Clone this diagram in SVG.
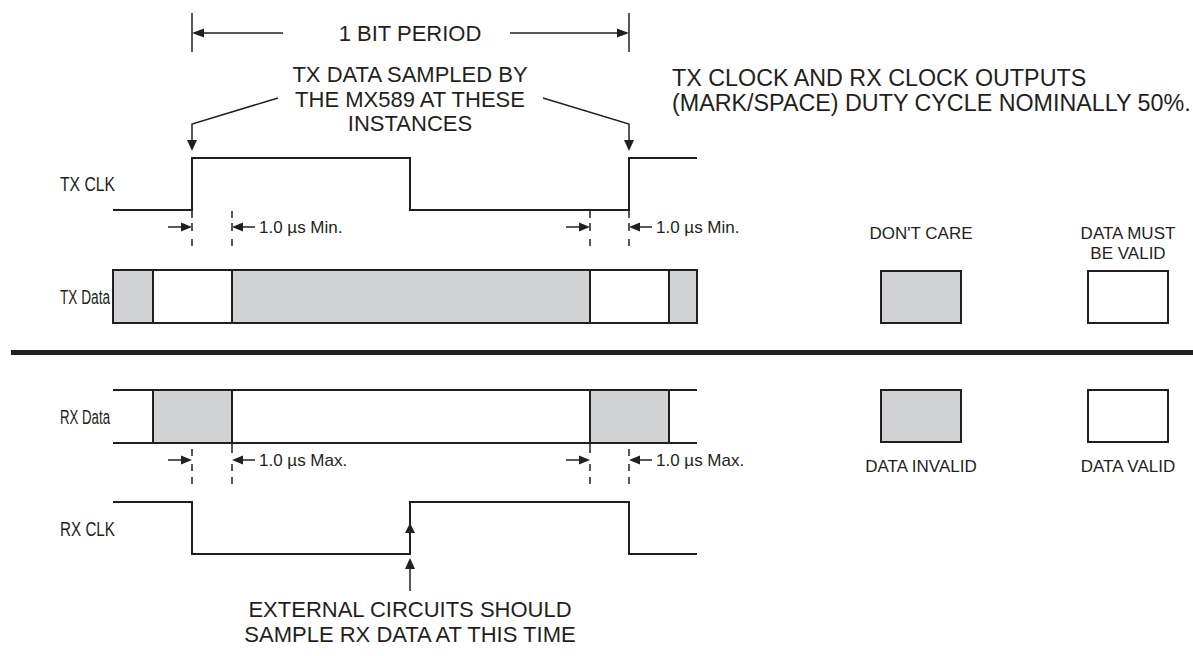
<svg xmlns="http://www.w3.org/2000/svg" width="1193" height="656" viewBox="0 0 1193 656">
<defs>
<style>
.t{font-family:"Liberation Sans",Arial,sans-serif;fill:#231f20}
.big{font-size:22px}
.note{font-size:23.3px}
.lbl{font-size:19.5px}
.sm{font-size:17px}
.leg{font-size:17px}
.w{fill:none;stroke:#231f20;stroke-width:2}
.thin{fill:none;stroke:#231f20;stroke-width:1.5}
.box{stroke:#231f20;stroke-width:2}
.g{fill:#d1d3d4}
.wh{fill:#ffffff}
.ah{fill:#231f20}
</style>
</defs>
<rect width="1193" height="656" fill="#ffffff"/>

<g id="period-dimension">
<line class="thin" x1="192" y1="13" x2="192" y2="52"/>
<line class="thin" x1="629" y1="13" x2="629" y2="52"/>
<line class="thin" x1="200" y1="33" x2="283" y2="33"/>
<line class="thin" x1="510" y1="33" x2="621" y2="33"/>
<polygon class="ah" points="192,33 204,28.5 204,37.5"/>
<polygon class="ah" points="629,33 617,28.5 617,37.5"/>
<text class="t big" x="410" y="41" text-anchor="middle">1 BIT PERIOD</text>
</g>

<g id="sample-note">
<text class="t big" x="410" y="82" text-anchor="middle">TX DATA SAMPLED BY</text>
<text class="t big" x="410" y="107" text-anchor="middle">THE MX589 AT THESE</text>
<text class="t big" x="410" y="131" text-anchor="middle">INSTANCES</text>
<polyline class="thin" points="278,98 192,124 192,142"/>
<polygon class="ah" points="192,151 187,140 197,140"/>
<polyline class="thin" points="543,98 629,124 629,142"/>
<polygon class="ah" points="629,151 624,140 634,140"/>
</g>

<g id="duty-note">
<text class="t note" x="672" y="86">TX CLOCK AND RX CLOCK OUTPUTS</text>
<text class="t note" x="672" y="111">(MARK/SPACE) DUTY CYCLE NOMINALLY 50%.</text>
</g>

<g id="tx-clk">
<text class="t lbl" x="60" y="191" textLength="55" lengthAdjust="spacingAndGlyphs">TX CLK</text>
<polyline class="w" points="113,210 192,210 192,158 410,158 410,210 629,210 629,158 697,158"/>
</g>

<g id="tx-timing">
<path class="thin" d="M192,210V218 M192,223V231 M192,239V246 M232,211V218 M232,223V231 M232,239V246 M590,210V218 M590,223V231 M590,239V246 M629,210V218 M629,223V231 M629,239V246"/>
<line class="thin" x1="168" y1="227" x2="184" y2="227"/>
<polygon class="ah" points="192,227 181,222.5 181,231.5"/>
<line class="thin" x1="240" y1="227" x2="255" y2="227"/>
<polygon class="ah" points="232,227 243,222.5 243,231.5"/>
<text class="t sm" x="259" y="233">1.0 µs Min.</text>
<line class="thin" x1="566" y1="227" x2="582" y2="227"/>
<polygon class="ah" points="590,227 579,222.5 579,231.5"/>
<line class="thin" x1="637" y1="227" x2="652" y2="227"/>
<polygon class="ah" points="629,227 640,222.5 640,231.5"/>
<text class="t sm" x="656" y="233">1.0 µs Min.</text>
</g>

<g id="tx-data">
<text class="t lbl" x="60" y="304" textLength="50" lengthAdjust="spacingAndGlyphs">TX Data</text>
<rect class="box g" x="113" y="270" width="40" height="53"/>
<rect class="box wh" x="153" y="270" width="79" height="53"/>
<rect class="box g" x="232" y="270" width="358" height="53"/>
<rect class="box wh" x="590" y="270" width="79" height="53"/>
<rect class="box g" x="669" y="270" width="28" height="53"/>
</g>

<g id="separator">
<line x1="11" y1="352.5" x2="1193" y2="352.5" stroke="#231f20" stroke-width="5"/>
</g>

<g id="rx-data">
<text class="t lbl" x="60" y="424" textLength="50" lengthAdjust="spacingAndGlyphs">RX Data</text>
<rect class="box g" x="153" y="390" width="79" height="53"/>
<rect class="box g" x="590" y="390" width="79" height="53"/>
<line class="w" x1="113" y1="390" x2="697" y2="390"/>
<line class="w" x1="113" y1="443" x2="697" y2="443"/>
</g>

<g id="rx-timing">
<path class="thin" d="M192,449V456 M192,464V471 M192,477V484 M232,443V453 M232,464V471 M232,477V484 M590,443V453 M590,464V471 M590,477V484 M629,449V456 M629,464V471 M629,477V484"/>
<line class="thin" x1="168" y1="460" x2="184" y2="460"/>
<polygon class="ah" points="192,460 181,455.5 181,464.5"/>
<line class="thin" x1="240" y1="460" x2="255" y2="460"/>
<polygon class="ah" points="232,460 243,455.5 243,464.5"/>
<text class="t sm" x="259" y="466">1.0 µs Max.</text>
<line class="thin" x1="566" y1="460" x2="582" y2="460"/>
<polygon class="ah" points="590,460 579,455.5 579,464.5"/>
<line class="thin" x1="637" y1="460" x2="652" y2="460"/>
<polygon class="ah" points="629,460 640,455.5 640,464.5"/>
<text class="t sm" x="656" y="466">1.0 µs Max.</text>
</g>

<g id="rx-clk">
<text class="t lbl" x="60" y="536" textLength="55" lengthAdjust="spacingAndGlyphs">RX CLK</text>
<polyline class="w" points="113,502 192,502 192,554 410,554 410,502 629,502 629,554 697,554"/>
<polygon class="ah" points="410,523 405,533 415,533"/>
</g>

<g id="sample-rx-note">
<line class="thin" x1="410" y1="566" x2="410" y2="591"/>
<polygon class="ah" points="410,558 405,569 415,569"/>
<text class="t big" x="410" y="617" text-anchor="middle">EXTERNAL CIRCUITS SHOULD</text>
<text class="t big" x="410" y="642" text-anchor="middle">SAMPLE RX DATA AT THIS TIME</text>
</g>

<g id="legend-dont-care">
<text class="t leg" x="921" y="239" text-anchor="middle">DON'T CARE</text>
<rect class="box g" x="881" y="271" width="80" height="52"/>
</g>
<g id="legend-must-be-valid">
<text class="t leg" x="1128" y="239" text-anchor="middle">DATA MUST</text>
<text class="t leg" x="1128" y="259" text-anchor="middle">BE VALID</text>
<rect class="box wh" x="1088" y="271" width="80" height="52"/>
</g>
<g id="legend-data-invalid">
<rect class="box g" x="881" y="390" width="80" height="52"/>
<text class="t leg" x="921" y="472" text-anchor="middle">DATA INVALID</text>
</g>
<g id="legend-data-valid">
<rect class="box wh" x="1088" y="390" width="80" height="52"/>
<text class="t leg" x="1128" y="472" text-anchor="middle">DATA VALID</text>
</g>
</svg>
